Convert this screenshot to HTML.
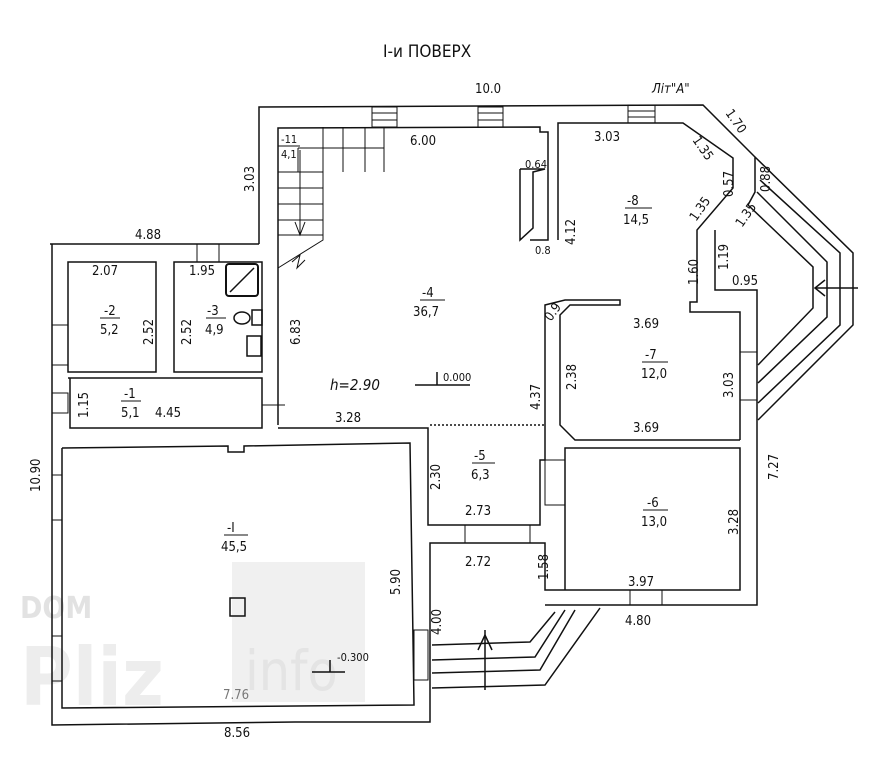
<!DOCTYPE html>
<html><head><meta charset="utf-8"><style>
html,body{margin:0;padding:0;background:#fff}
svg{display:block}
text{font-family:"DejaVu Sans Condensed","Liberation Sans Narrow","Liberation Sans",sans-serif;fill:#111;font-size:13px}
</style></head><body>
<svg width="885" height="768" viewBox="0 0 885 768" xmlns="http://www.w3.org/2000/svg">
<rect x="232" y="562" width="133" height="140" fill="#f0f0f0"/>
<text x="20" y="618" style="font-size:30px;font-weight:bold;fill:#e2e2e2">DOM</text>
<text x="20" y="705" style="font-size:80px;font-weight:bold;fill:#ededed">Pliz</text>
<text x="245" y="690" style="font-size:55px;fill:#e4e4e4">info</text>

<g fill="none" stroke="#111" stroke-width="1.5">
<polyline points="259,244 259,107 703,105 755,157 755,192 748,205"/>
<polyline points="50,244 259,244"/>
<polyline points="52,244 52,725 295,722 430,722 430,690"/>
<polyline points="278,425 278,128 540,127 540,132 548,132 548,240 530,240"/>
<polyline points="558,240 558,123 683,123 733,158 733,188 697,230 697,302 690,302 690,312 740,312 740,440"/>
<polyline points="715,230 715,290 757,290 757,605 545,605"/>
<polyline points="520,169 545,169 533,172 533,228 520,240 520,169"/>
<rect x="68" y="262" width="88" height="110"/>
<rect x="174" y="262" width="88" height="110"/>
<polyline points="68,378 262,378 262,428 70,428 70,378"/>
<polyline points="62,448 228,446 228,452 244,452 244,446 410,443 414,705 62,708 62,448"/>
<polyline points="278,428 428,428 428,525 540,525 540,460 545,460 545,305 565,300 620,300 620,305 570,305 560,315 560,425 575,440 740,440"/>
<line x1="430" y1="425" x2="545" y2="425" stroke-dasharray="2,2"/>
<polyline points="430,690 430,543 545,543 545,590 565,590 565,448 740,448 740,590 565,590"/>
<polyline points="432,645 530,642 555,612"/>
<polyline points="432,660 535,657 565,610"/>
<polyline points="432,673 540,670 575,610"/>
<polyline points="432,688 545,685 600,608"/>
<line x1="485" y1="630" x2="485" y2="690"/>
<polyline points="478,650 485,635 492,650"/>
<polyline points="748,205 813,267 813,308 758,365"/>
<polyline points="757,192 827,262 827,317 758,383"/>
<polyline points="760,180 840,253 840,325 758,403"/>
<polyline points="755,157 853,253 853,325 758,420"/>
<line x1="815" y1="288" x2="858" y2="288"/>
<polyline points="825,280 815,288 825,296"/>
<g stroke-width="1">
<line x1="298" y1="148" x2="384" y2="148"/><line x1="384" y1="127" x2="384" y2="172"/>
<line x1="323" y1="127" x2="323" y2="172"/><line x1="343" y1="127" x2="343" y2="172"/><line x1="365" y1="127" x2="365" y2="172"/>
<polyline points="298,148 298,172 323,172 323,240 278,268"/>
<line x1="278" y1="172" x2="323" y2="172"/><line x1="278" y1="188" x2="323" y2="188"/><line x1="278" y1="204" x2="323" y2="204"/><line x1="278" y1="220" x2="323" y2="220"/><line x1="278" y1="235" x2="323" y2="235"/>
<line x1="300" y1="150" x2="300" y2="235"/><polyline points="295,222 300,235 305,222"/>
<polyline points="292,262 300,255 297,268 305,260"/>
</g>
<g stroke-width="1">
<rect x="372" y="107" width="25" height="20"/><line x1="372" y1="113" x2="397" y2="113"/><line x1="372" y1="120" x2="397" y2="120"/>
<rect x="478" y="107" width="25" height="20"/><line x1="478" y1="113" x2="503" y2="113"/><line x1="478" y1="120" x2="503" y2="120"/>
<rect x="628" y="105" width="27" height="18"/><line x1="628" y1="111" x2="655" y2="111"/><line x1="628" y1="117" x2="655" y2="117"/>
<rect x="197" y="244" width="22" height="18"/>
<rect x="52" y="325" width="16" height="40"/><rect x="52" y="393" width="16" height="20"/>
<rect x="52" y="475" width="10" height="45"/><rect x="52" y="636" width="10" height="45"/>
<rect x="414" y="630" width="14" height="50"/>
<rect x="740" y="352" width="17" height="48"/>
<rect x="630" y="590" width="32" height="15"/>
<rect x="465" y="525" width="65" height="18"/>
<rect x="545" y="460" width="20" height="45"/>
<line x1="262" y1="405" x2="285" y2="405"/>
</g>
<rect x="226" y="264" width="32" height="32" rx="3" stroke-width="2"/>
<line x1="230" y1="292" x2="254" y2="268"/>
<ellipse cx="242" cy="318" rx="8" ry="6"/><rect x="252" y="310" width="10" height="15"/>
<rect x="247" y="336" width="14" height="20"/>
<rect x="230" y="598" width="15" height="18"/>
<line x1="415" y1="385" x2="470" y2="385"/><line x1="437" y1="372" x2="437" y2="385"/>
<line x1="312" y1="672" x2="345" y2="672"/><line x1="330" y1="660" x2="330" y2="672"/>
<g stroke-width="1">
<line x1="420" y1="300" x2="445" y2="300"/><line x1="100" y1="318" x2="120" y2="318"/>
<line x1="206" y1="318" x2="226" y2="318"/><line x1="121" y1="401" x2="141" y2="401"/>
<line x1="625" y1="208" x2="652" y2="208"/><line x1="642" y1="362" x2="668" y2="362"/>
<line x1="472" y1="463" x2="495" y2="463"/><line x1="643" y1="510" x2="668" y2="510"/>
<line x1="224" y1="535" x2="248" y2="535"/><line x1="278" y1="146" x2="300" y2="146"/>
</g>
</g>
<text x="383" y="57" style="font-size:17px">І-и ПОВЕРХ</text>
<text x="475" y="93">10.0</text>
<text x="652" y="93" style="font-style:italic">Літ"А"</text>
<text x="410" y="145">6.00</text>
<text x="594" y="141">3.03</text>
<text x="135" y="239">4.88</text>
<text x="92" y="275">2.07</text>
<text x="189" y="275">1.95</text>
<text x="525" y="168" style="font-size:11px">0.64</text>
<text x="535" y="254" style="font-size:11px">0.8</text>
<text x="281" y="143" style="font-size:11px">-11</text>
<text x="281" y="158" style="font-size:11px">4,1</text>
<text x="422" y="297">-4</text><text x="413" y="316">36,7</text>
<text x="104" y="315">-2</text><text x="100" y="334">5,2</text>
<text x="207" y="315">-3</text><text x="205" y="334">4,9</text>
<text x="124" y="398">-1</text><text x="121" y="417">5,1</text>
<text x="155" y="417">4.45</text>
<text x="627" y="205">-8</text><text x="623" y="224">14,5</text>
<text x="645" y="359">-7</text><text x="641" y="378">12,0</text>
<text x="474" y="460">-5</text><text x="471" y="479">6,3</text>
<text x="647" y="507">-6</text><text x="641" y="526">13,0</text>
<text x="227" y="532">-I</text><text x="221" y="551">45,5</text>
<text x="633" y="328">3.69</text>
<text x="633" y="432">3.69</text>
<text x="335" y="422">3.28</text>
<text x="330" y="390" style="font-style:italic;font-size:15px">h=2.90</text>
<text x="443" y="381" style="font-size:11px">0.000</text>
<text x="337" y="661" style="font-size:11px">-0.300</text>
<text x="465" y="515">2.73</text>
<text x="465" y="566">2.72</text>
<text x="628" y="586">3.97</text>
<text x="625" y="625">4.80</text>
<text x="223" y="699" style="fill:#777">7.76</text>
<text x="224" y="737">8.56</text>
<text x="732" y="285">0.95</text>
<g font-size="13">
<text transform="translate(254,192) rotate(-90)">3.03</text>
<text transform="translate(153,345) rotate(-90)">2.52</text>
<text transform="translate(191,345) rotate(-90)">2.52</text>
<text transform="translate(300,345) rotate(-90)">6.83</text>
<text transform="translate(88,418) rotate(-90)">1.15</text>
<text transform="translate(40,492) rotate(-90)">10.90</text>
<text transform="translate(400,595) rotate(-90)">5.90</text>
<text transform="translate(440,490) rotate(-90)">2.30</text>
<text transform="translate(540,410) rotate(-90)">4.37</text>
<text transform="translate(576,390) rotate(-90)">2.38</text>
<text transform="translate(575,245) rotate(-90)">4.12</text>
<text transform="translate(522,235) rotate(-90);font-size:11px">1.66</text>
<text transform="translate(733,398) rotate(-90)">3.03</text>
<text transform="translate(738,535) rotate(-90)">3.28</text>
<text transform="translate(778,480) rotate(-90)">7.27</text>
<text transform="translate(548,580) rotate(-90)">1.58</text>
<text transform="translate(441,635) rotate(-90)">4.00</text>
<text transform="translate(698,285) rotate(-90)">1.60</text>
<text transform="translate(728,270) rotate(-90)">1.19</text>
<text transform="translate(733,197) rotate(-90)">0.57</text>
<text transform="translate(770,192) rotate(-90)">0.88</text>
<text transform="translate(725,113) rotate(55)">1.70</text>
<text transform="translate(692,140) rotate(55)">1.35</text>
<text transform="translate(696,222) rotate(-55)">1.35</text>
<text transform="translate(742,228) rotate(-55)">1.35</text>
<text transform="translate(551,322) rotate(-55)">0.9</text>
</g>
</svg>
</body></html>
